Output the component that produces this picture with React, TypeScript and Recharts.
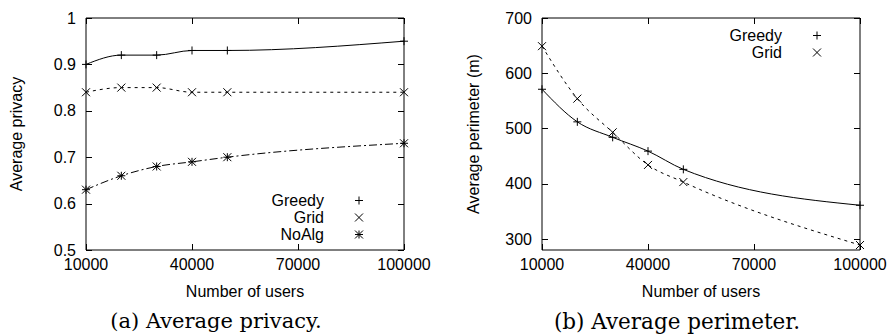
import { Legend, Line, LineChart, XAxis, YAxis } from "recharts";

const users = [10000, 20000, 30000, 40000, 50000, 100000];
const xTicks = [10000, 40000, 70000, 100000];

const privacyGreedy = [0.9, 0.92, 0.92, 0.93, 0.93, 0.95];
const privacyGrid = [0.84, 0.85, 0.85, 0.84, 0.84, 0.84];
const privacyNoAlg = [0.63, 0.66, 0.68, 0.69, 0.7, 0.73];
const privacyTicks = [0.5, 0.6, 0.7, 0.8, 0.9, 1];

const perimeterGreedy = [571, 512, 484, 459, 426, 361];
const perimeterGrid = [649, 554, 493, 434, 403, 289];
const perimeterTicks = [300, 400, 500, 600, 700];

const sans = "'Liberation Sans', Arial, Helvetica, sans-serif";
const serif = "'DejaVu Serif', 'Liberation Serif', serif";

type Kind = "plus" | "cross" | "star";
type Side = "bottom" | "top" | "left" | "right";

const privacyRows = users.map((u, i) => ({
  users: u,
  Greedy: privacyGreedy[i],
  Grid: privacyGrid[i],
  NoAlg: privacyNoAlg[i],
}));

const perimeterRows = users.map((u, i) => ({
  users: u,
  Greedy: perimeterGreedy[i],
  Grid: perimeterGrid[i],
}));

function MarkPath({ kind, cx, cy }: { kind: Kind; cx: number; cy: number }) {
  const s = 4;
  const plus = `M${cx - s},${cy}H${cx + s}M${cx},${cy - s}V${cy + s}`;
  const cross = `M${cx - s},${cy - s}L${cx + s},${cy + s}M${cx - s},${cy + s}L${cx + s},${cy - s}`;
  const d = kind === "plus" ? plus : kind === "cross" ? cross : plus + cross;
  return <path d={d} stroke="#000" strokeWidth={1} fill="none" />;
}

const dot = (kind: Kind) => (props: any) => {
  const { cx, cy, index } = props;
  if (cx == null || cy == null) return <g key={index} />;
  return (
    <g key={`${kind}-${index}`}>
      <MarkPath kind={kind} cx={cx} cy={cy} />
    </g>
  );
};

const legendFor = (items: { name: string; kind: Kind }[]) => () => (
  <div style={{ fontFamily: sans, fontSize: 16, color: "#000" }}>
    {items.map((it) => (
      <div key={it.name} style={{ display: "flex", alignItems: "center", height: 17 }}>
        <span style={{ width: 90, textAlign: "right", lineHeight: "17px" }}>{it.name}</span>
        <svg width={70} height={17} style={{ display: "block" }}>
          <MarkPath kind={it.kind} cx={35} cy={8.5} />
        </svg>
      </div>
    ))}
  </div>
);

// gnuplot style ticks: short marks pointing into the plot, labels only bottom/left
const crisp = (v: number) => Math.round(v) + 0.5;
const inTick = (side: Side, labels: boolean) => (p: any) => {
  const { x, y, payload } = p;
  const L = 6;
  const line =
    side === "bottom" ? { x1: crisp(x), y1: y, x2: crisp(x), y2: y - L }
    : side === "top" ? { x1: crisp(x), y1: y, x2: crisp(x), y2: y + L }
    : side === "left" ? { x1: x, y1: crisp(y), x2: x + L, y2: crisp(y) }
    : { x1: x, y1: crisp(y), x2: x - L, y2: crisp(y) };
  return (
    <g>
      <line {...line} stroke="#000" strokeWidth={1} />
      {labels && side === "bottom" && (
        <text x={x} y={y + 9} dy="0.71em" textAnchor="middle" fill="#000" fontSize={16} fontFamily={sans}>
          {String(payload.value)}
        </text>
      )}
      {labels && side === "left" && (
        <text x={x - 10} y={y} dy="0.355em" textAnchor="end" fill="#000" fontSize={16} fontFamily={sans}>
          {String(payload.value)}
        </text>
      )}
    </g>
  );
};

const border = { stroke: "#000", strokeWidth: 1 };

function Panel(props: {
  left: number;
  margin: { top: number; right: number; bottom: number; left: number };
  rows: any[];
  yDomain: [number, number];
  yTicks: number[];
  series: { key: string; kind: Kind; dash?: string; mirror?: boolean }[];
  legend: { left: number; top: number };
}) {
  const { rows, margin, yDomain, yTicks, series, legend } = props;
  const xDomain: [number, number] = [10000, 100000];
  return (
    <div style={{ position: "absolute", left: props.left, top: 0 }}>
      <LineChart width={446} height={334} data={rows} margin={margin}>
        <XAxis xAxisId="b" dataKey="users" type="number" domain={xDomain} ticks={xTicks} interval={0}
          height={30} tickSize={0} tickMargin={0} tickLine={false} axisLine={border} tick={inTick("bottom", true)} />
        <XAxis xAxisId="t" orientation="top" dataKey="users" type="number" domain={xDomain} ticks={xTicks} interval={0}
          height={1} tickSize={0} tickMargin={0} tickLine={false} axisLine={border} tick={inTick("top", false)} />
        <YAxis yAxisId="l" type="number" domain={yDomain} ticks={yTicks} width={60} interval={0}
          tickSize={0} tickMargin={0} tickLine={false} axisLine={border} tick={inTick("left", true)} />
        <YAxis yAxisId="r" orientation="right" type="number" domain={yDomain} ticks={yTicks} width={1} interval={0}
          tickSize={0} tickMargin={0} tickLine={false} axisLine={border} tick={inTick("right", false)} />
        {series.map((s) => (
          <Line key={s.key} xAxisId={s.mirror ? "t" : "b"} yAxisId={s.mirror ? "r" : "l"} type="monotoneX"
            dataKey={s.key} stroke="#000" strokeWidth={1} strokeDasharray={s.dash} dot={dot(s.kind)}
            activeDot={false} isAnimationActive={false} />
        ))}
        <Legend layout="vertical" align="center" verticalAlign="middle"
          content={legendFor(series.map((s) => ({ name: s.key, kind: s.kind })))}
          wrapperStyle={{ position: "absolute", left: legend.left, top: legend.top, width: 160, bottom: "auto" }} />
      </LineChart>
    </div>
  );
}

const abs = (style: React.CSSProperties): React.CSSProperties => ({
  position: "absolute",
  whiteSpace: "nowrap",
  color: "#000",
  ...style,
});

export default function App() {
  return (
    <div style={{ position: "absolute", left: 0, top: 0, width: 892, height: 334, background: "#fff", overflow: "hidden" }}>
      <Panel
        left={0}
        rows={privacyRows}
        margin={{ top: 17, right: 41, bottom: 54, left: 26 }}
        yDomain={[0.5, 1]}
        yTicks={privacyTicks}
        series={[
          { key: "Greedy", kind: "plus" },
          { key: "Grid", kind: "cross", dash: "3 4", mirror: true },
          { key: "NoAlg", kind: "star", dash: "8 3 2 3" },
        ]}
        legend={{ left: 234, top: 192 }}
      />
      <Panel
        left={446}
        rows={perimeterRows}
        margin={{ top: 17, right: 31, bottom: 54, left: 36 }}
        yDomain={[280, 700]}
        yTicks={perimeterTicks}
        series={[
          { key: "Greedy", kind: "plus" },
          { key: "Grid", kind: "cross", dash: "3 4", mirror: true },
        ]}
        legend={{ left: 246, top: 27 }}
      />
      <div style={abs({ left: 17, top: 134, fontFamily: sans, fontSize: 16, transform: "translate(-50%, -50%) rotate(-90deg)" })}>
        Average privacy
      </div>
      <div style={abs({ left: 474, top: 134, fontFamily: sans, fontSize: 16, transform: "translate(-50%, -50%) rotate(-90deg)" })}>
        Average perimeter (m)
      </div>
      <div style={abs({ left: 245, top: 292, fontFamily: sans, fontSize: 16, transform: "translate(-50%, -50%)" })}>
        Number of users
      </div>
      <div style={abs({ left: 701, top: 292, fontFamily: sans, fontSize: 16, transform: "translate(-50%, -50%)" })}>
        Number of users
      </div>
      <div style={abs({ left: 216, top: 321, fontFamily: serif, fontSize: 21, transform: "translate(-50%, -50%)" })}>
        (a) Average privacy.
      </div>
      <div style={abs({ left: 677, top: 321, fontFamily: serif, fontSize: 21.5, transform: "translate(-50%, -50%)" })}>
        (b) Average perimeter.
      </div>
    </div>
  );
}
